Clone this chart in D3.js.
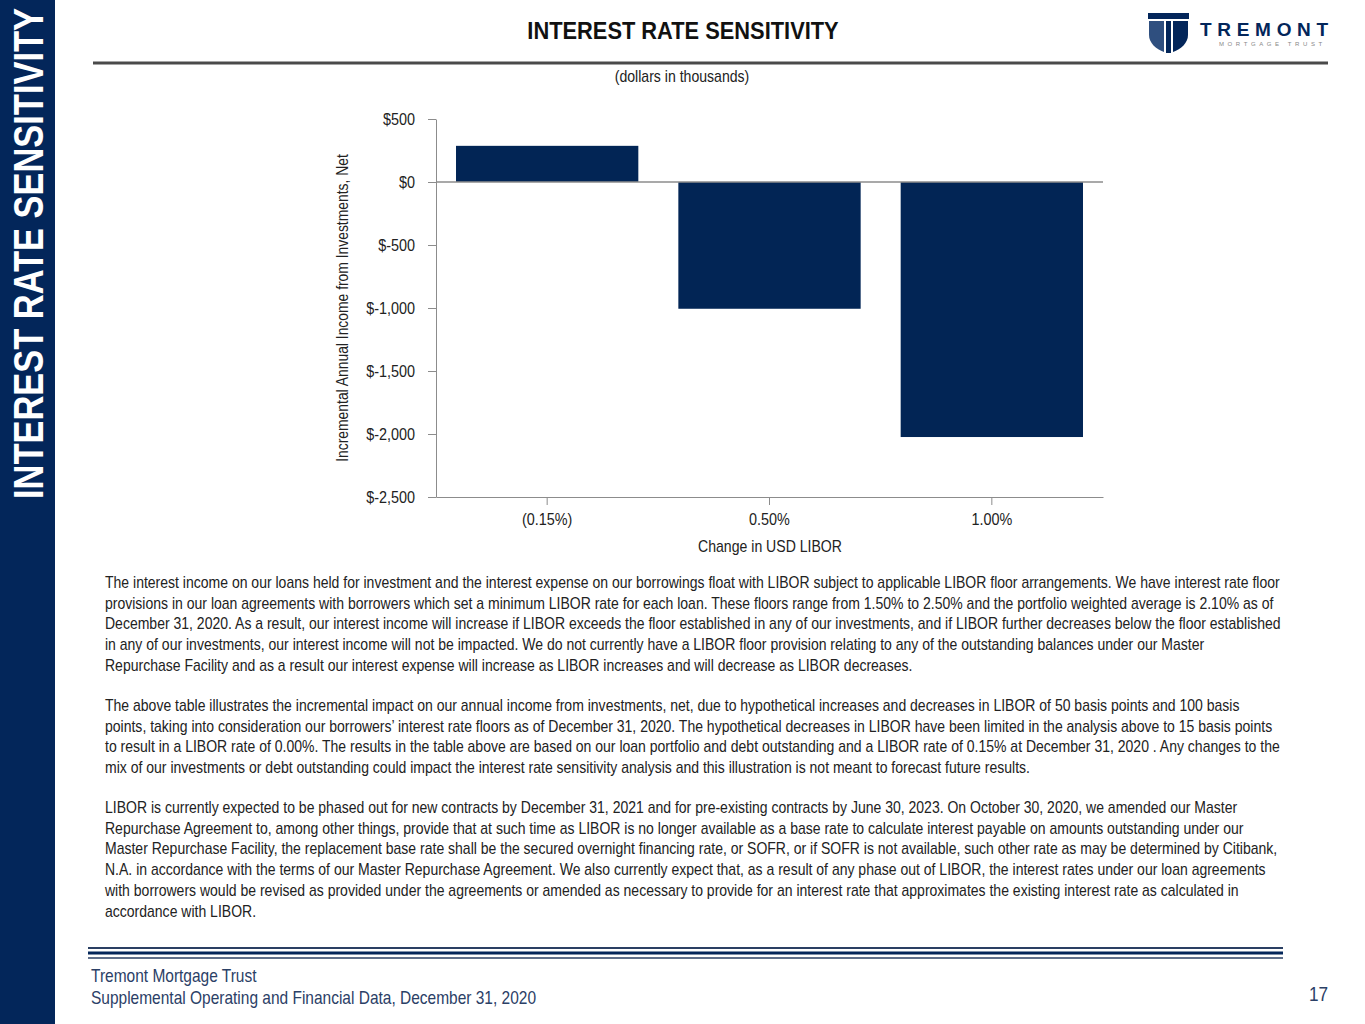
<!DOCTYPE html>
<html>
<head>
<meta charset="utf-8">
<script src="https://cdn.jsdelivr.net/npm/d3@7"></script>
<style>
  html, body { margin: 0; padding: 0; background: #fff; }
  svg { display: block; }
</style>
</head>
<body>
<svg id="chart" width="1365" height="1024"></svg>
<script>
// ---------- data ----------
const categories = ["(0.15%)", "0.50%", "1.00%"];
const values = [287, -1006, -2024];
const yTicks = [500, 0, -500, -1000, -1500, -2000, -2500];
const title = "INTEREST RATE SENSITIVITY";
const subtitle = "(dollars in thousands)";
const yLabel = "Incremental Annual Income from Investments, Net";
const xLabel = "Change in USD LIBOR";
const paragraphs = [
  [
    "The interest income on our loans held for investment and the interest expense on our borrowings float with LIBOR subject to applicable LIBOR floor arrangements. We have interest rate floor",
    "provisions in our loan agreements with borrowers which set a minimum LIBOR rate for each loan. These floors range from 1.50% to 2.50% and the portfolio weighted average is 2.10% as of",
    "December 31, 2020. As a result, our interest income will increase if LIBOR exceeds the floor established in any of our investments, and if LIBOR further decreases below the floor established",
    "in any of our investments, our interest income will not be impacted. We do not currently have a LIBOR floor provision relating to any of the outstanding balances under our Master",
    "Repurchase Facility and as a result our interest expense will increase as LIBOR increases and will decrease as LIBOR decreases."
  ],
  [
    "The above table illustrates the incremental impact on our annual income from investments, net, due to hypothetical increases and decreases in LIBOR of 50 basis points and 100 basis",
    "points, taking into consideration our borrowers\u2019 interest rate floors as of December 31, 2020. The hypothetical decreases in LIBOR have been limited in the analysis above to 15 basis points",
    "to result in a LIBOR rate of 0.00%. The results in the table above are based on our loan portfolio and debt outstanding and a LIBOR rate of 0.15% at December 31, 2020 . Any changes to the",
    "mix of our investments or debt outstanding could impact the interest rate sensitivity analysis and this illustration is not meant to forecast future results."
  ],
  [
    "LIBOR is currently expected to be phased out for new contracts by December 31, 2021 and for pre-existing contracts by June 30, 2023. On October 30, 2020, we amended our Master",
    "Repurchase Agreement to, among other things, provide that at such time as LIBOR is no longer available as a base rate to calculate interest payable on amounts outstanding under our",
    "Master Repurchase Facility, the replacement base rate shall be the secured overnight financing rate, or SOFR, or if SOFR is not available, such other rate as may be determined by Citibank,",
    "N.A. in accordance with the terms of our Master Repurchase Agreement. We also currently expect that, as a result of any phase out of LIBOR, the interest rates under our loan agreements",
    "with borrowers would be revised as provided under the agreements or amended as necessary to provide for an interest rate that approximates the existing interest rate as calculated in",
    "accordance with LIBOR."
  ]
];
const footerLines = ["Tremont Mortgage Trust", "Supplemental Operating and Financial Data, December 31, 2020"];
const pageNumber = "17";
const sideTitle = "INTEREST RATE SENSITIVITY";

// ---------- styles ----------
const NAVY = "#03265a";
const FONT = '"Liberation Sans", Arial, sans-serif';
const svg = d3.select("#chart");

// condensed text helper (emulates a narrow face)
function ntext(parent, x, y, str, o) {
  o = o || {};
  const rot = o.rotate ? ` rotate(${o.rotate})` : "";
  return parent.append("text")
    .attr("transform", `translate(${x},${y})${rot} scale(${o.scale || 0.88},1)`)
    .attr("text-anchor", o.anchor || "start")
    .attr("font-family", FONT)
    .attr("font-weight", o.weight || "normal")
    .attr("font-size", o.size || 16)
    .attr("fill", o.fill || "#222")
    .text(str);
}

// sidebar
svg.append("rect").attr("x", 0).attr("y", 0).attr("width", 55).attr("height", 1024).attr("fill", NAVY);
ntext(svg, 43, 253.5, sideTitle, {rotate: -90, anchor: "middle", weight: "bold", size: 42, scale: 0.82, fill: "#fff"});

// header
ntext(svg, 683, 39, title, {anchor: "middle", weight: "bold", size: 24, scale: 0.91, fill: "#111"});
svg.append("line").attr("x1", 93).attr("x2", 1328).attr("y1", 63).attr("y2", 63)
  .attr("stroke", "#4a4a4a").attr("stroke-width", 3);
ntext(svg, 682, 82, subtitle, {anchor: "middle", size: 16, scale: 0.88});

// logo
const logo = svg.append("g");
logo.append("path").attr("d", "M1148,13 H1189 V19 H1148 Z").attr("fill", NAVY);
logo.append("path").attr("d", "M1149,21 H1164 V52 C1156,49 1149,43 1149,35 Z").attr("fill", "#2f4f7f");
logo.append("path").attr("d", "M1173,21 H1188 V35 C1188,43 1181,49 1173,52 Z").attr("fill", NAVY);
logo.append("path").attr("d", "M1166,21 H1171 V53 H1166 Z").attr("fill", NAVY);
logo.append("text").attr("x", 1200).attr("y", 36)
  .attr("font-family", FONT).attr("font-weight", "bold")
  .attr("font-size", 19).attr("letter-spacing", 5.7).attr("fill", NAVY).text("TREMONT");
logo.append("text").attr("x", 1219).attr("y", 46)
  .attr("font-family", FONT)
  .attr("font-size", 6).attr("letter-spacing", 3.6).attr("fill", "#888").text("MORTGAGE TRUST");

// ---------- chart ----------
const x0 = 436, x1 = 1103, yTop = 119, yBot = 497;
const x = d3.scaleBand().domain(categories).range([x0, x1]).paddingInner(0.18).paddingOuter(0.09);
const y = d3.scaleLinear().domain([-2500, 500]).range([yBot, yTop]);

const fmt = v => v < 0 ? "$-" + d3.format(",")(-v) : "$" + d3.format(",")(v);

const ys = 0.9;
const yAxis = svg.append("g").attr("transform", `translate(${x0},0)`)
  .call(d3.axisLeft(y).tickValues(yTicks).tickFormat(fmt).tickSize(8).tickPadding(13).tickSizeOuter(0));
yAxis.select(".domain").attr("stroke", "#8c8c8c");
yAxis.selectAll(".tick line").attr("stroke", "#8c8c8c");
yAxis.selectAll(".tick text").attr("font-family", FONT).attr("font-size", 16).attr("fill", "#222")
  .attr("x", -21 / ys).attr("transform", `scale(${ys},1)`);

const xAxis = svg.append("g").attr("transform", `translate(0,${yBot})`)
  .call(d3.axisBottom(x).tickSize(8).tickPadding(9).tickSizeOuter(0));
xAxis.select(".domain").attr("stroke", "#8c8c8c");
xAxis.selectAll(".tick line").attr("stroke", "#8c8c8c");
xAxis.selectAll(".tick text").attr("font-family", FONT).attr("font-size", 16).attr("fill", "#222")
  .attr("transform", "scale(0.9,1)");

svg.append("g").selectAll("rect").data(values).join("rect")
  .attr("x", (d, i) => x(categories[i]))
  .attr("width", x.bandwidth())
  .attr("y", d => y(Math.max(0, d)))
  .attr("height", d => Math.abs(y(d) - y(0)))
  .attr("fill", "#022555");

svg.append("line").attr("x1", x0).attr("x2", x1).attr("y1", y(0)).attr("y2", y(0))
  .attr("stroke", "#8c8c8c").attr("stroke-width", 1.3);

ntext(svg, 348, 308, yLabel, {rotate: -90, anchor: "middle", size: 16, scale: 0.867});
ntext(svg, 770, 552, xLabel, {anchor: "middle", size: 16, scale: 0.88});

// ---------- paragraphs ----------
const paraStarts = [588, 711, 813];
const lh = 20.7;
paragraphs.forEach((lines, pi) => {
  const g = svg.append("g");
  lines.forEach((line, i) => ntext(g, 105, paraStarts[pi] + i * lh, line, {size: 16, scale: 0.876}));
});

// ---------- footer ----------
svg.append("line").attr("x1", 88).attr("x2", 1283).attr("y1", 948).attr("y2", 948).attr("stroke", "#2a3f63").attr("stroke-width", 2);
svg.append("line").attr("x1", 88).attr("x2", 1283).attr("y1", 953).attr("y2", 953).attr("stroke", NAVY).attr("stroke-width", 3);
svg.append("line").attr("x1", 88).attr("x2", 1283).attr("y1", 958).attr("y2", 958).attr("stroke", "#2a3f63").attr("stroke-width", 1.3);
footerLines.forEach((t, i) => ntext(svg, 91, 982 + i * 22, t, {size: 18, scale: 0.861, fill: "#2b4066"}));
ntext(svg, 1328, 1001, pageNumber, {anchor: "end", size: 20, scale: 0.86, fill: "#2b4066"});
</script>
</body>
</html>
